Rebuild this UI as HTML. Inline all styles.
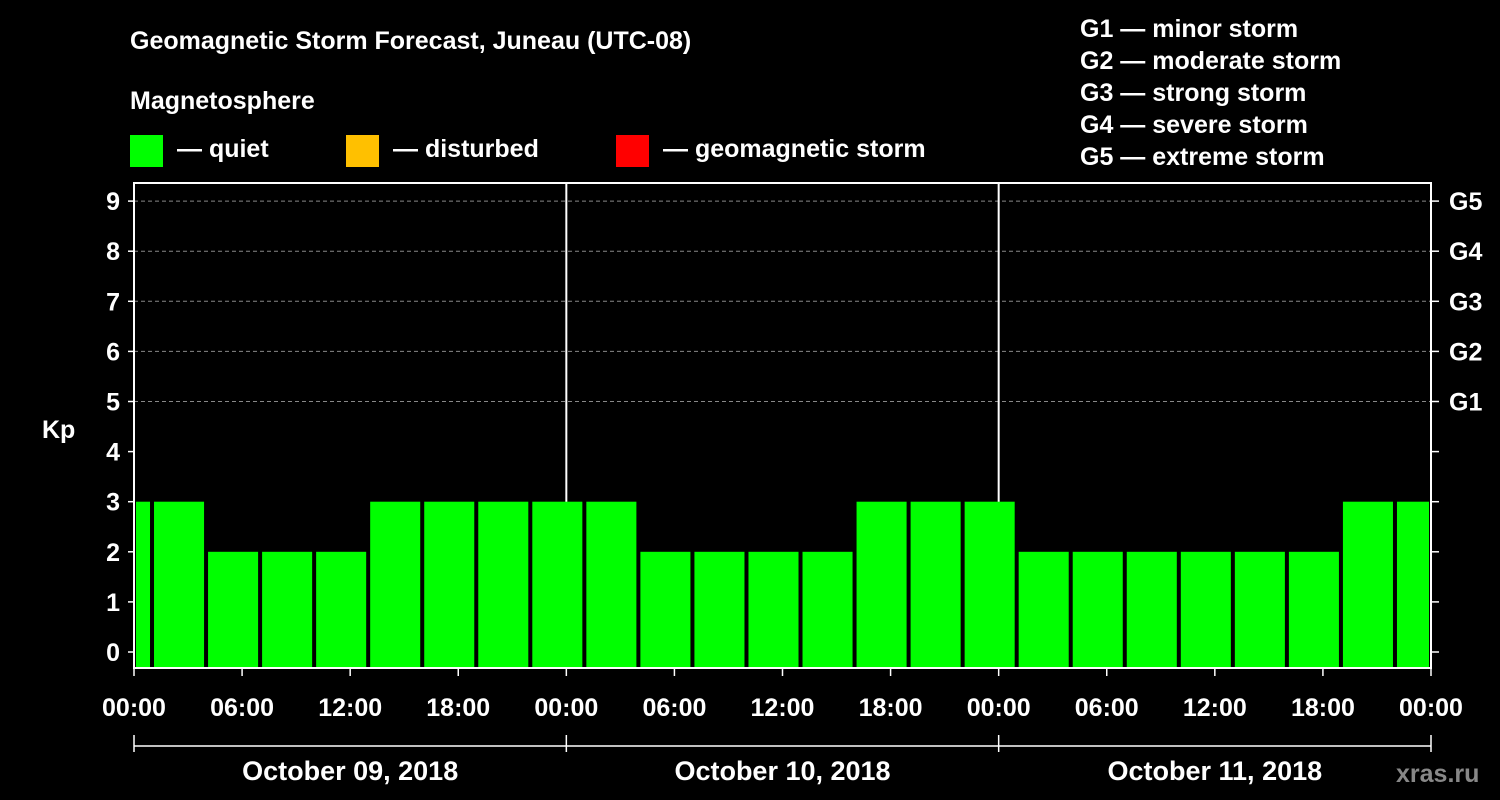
<!DOCTYPE html>
<html><head><meta charset="utf-8"><style>
body{margin:0;background:#000;width:1500px;height:800px;overflow:hidden}
svg{display:block}
text{font-family:"Liberation Sans",Arial,sans-serif;font-weight:bold;fill:#fff}
</style></head><body>
<svg id="chart" width="1500" height="800">
<text x="130" y="49" font-size="25">Geomagnetic Storm Forecast, Juneau (UTC-08)</text>
<text x="130" y="109" font-size="25">Magnetosphere</text>
<g><rect x="130" y="135" width="33" height="32" fill="#00ff00"/><text x="177" y="157" font-size="25">— quiet</text></g>
<g><rect x="346" y="135" width="33" height="32" fill="#ffc000"/><text x="393" y="157" font-size="25">— disturbed</text></g>
<g><rect x="616" y="135" width="33" height="32" fill="#ff0000"/><text x="663" y="157" font-size="25">— geomagnetic storm</text></g>
<g font-size="25">
<text x="1080" y="37">G1 — minor storm</text>
<text x="1080" y="69">G2 — moderate storm</text>
<text x="1080" y="101">G3 — strong storm</text>
<text x="1080" y="133">G4 — severe storm</text>
<text x="1080" y="165">G5 — extreme storm</text>
</g>
<text x="42" y="438" font-size="25">Kp</text>
<text x="1396" y="782" font-size="25" fill="#888" style="fill:#888">xras.ru</text>
<g id="grid"></g><g id="bars"></g><g id="axes"></g>
</svg>
<script>
const hourStart=[0,1,4,7,10,13,16,19,22,25,28,31,34,37,40,43,46,49,52,55,58,61,64,67,70];
const hourEnd=[1,4,7,10,13,16,19,22,25,28,31,34,37,40,43,46,49,52,55,58,61,64,67,70,72];
const kpValues=[3,3,2,2,2,3,3,3,3,3,2,2,2,2,3,3,3,2,2,2,2,2,2,3,3];
const yTicks=[0,1,2,3,4,5,6,7,8,9];
const gLabels=["G1","G2","G3","G4","G5"];
const xTickLabels=["00:00","06:00","12:00","18:00","00:00","06:00","12:00","18:00","00:00","06:00","12:00","18:00","00:00"];
const dayLabels=["October 09, 2018","October 10, 2018","October 11, 2018"];
const NS="http://www.w3.org/2000/svg";
const X0=134,X1=1431,Ytop=183,Ybot=668;
const x=h=>X0+h*(X1-X0)/72;
const y=v=>652-v*50.1;
function mk(p,t,a){const e=document.createElementNS(NS,t);for(const k in a)e.setAttribute(k,a[k]);p.appendChild(e);return e;}
const grid=document.getElementById('grid'),bars=document.getElementById('bars'),axes=document.getElementById('axes');
yTicks.forEach(v=>{if(v>=5){const l=mk(grid,'line',{x1:X0,x2:X1,y1:y(v),y2:y(v),stroke:'#888','stroke-dasharray':'4,3','stroke-width':1});

}});
[1,2].forEach(d=>{const l=mk(grid,'line',{x1:x(d*24),x2:x(d*24),y1:Ytop,y2:Ybot,stroke:'#fff','stroke-width':2});

});
kpValues.forEach((v,i)=>{const c=v>=5?'#ff0000':(v>=4?'#ffc000':'#00ff00');
const r=mk(bars,'rect',{x:x(hourStart[i])+2,y:y(v),width:x(hourEnd[i])-x(hourStart[i])-4,height:Ybot-y(v),fill:c});

});
const fr=mk(axes,'rect',{x:X0,y:Ytop,width:X1-X0,height:Ybot-Ytop,fill:'none',stroke:'#fff','stroke-width':2});


yTicks.forEach(v=>{mk(axes,'line',{x1:X0-6,x2:X0,y1:y(v),y2:y(v),stroke:'#fff','stroke-width':1.5});
mk(axes,'line',{x1:X1,x2:X1+8,y1:y(v),y2:y(v),stroke:'#fff','stroke-width':1.5});
const t=mk(axes,'text',{x:X0-14,y:y(v)+9,'font-size':25,'text-anchor':'end'});t.textContent=v;

});
gLabels.forEach((g,i)=>{const t=mk(axes,'text',{x:1449,y:y(5+i)+9,'font-size':25});t.textContent=g;

});
xTickLabels.forEach((s,i)=>{const xx=x(i*6);mk(axes,'line',{x1:xx,x2:xx,y1:Ybot,y2:Ybot+8,stroke:'#fff','stroke-width':1.5});
const t=mk(axes,'text',{x:xx,y:716,'font-size':25,'text-anchor':'middle'});t.textContent=s;

});
mk(axes,'line',{x1:X0,x2:X1,y1:746,y2:746,stroke:'#fff','stroke-width':1.5});
[0,1,2,3].forEach(d=>mk(axes,'line',{x1:x(d*24),x2:x(d*24),y1:735,y2:752,stroke:'#fff','stroke-width':1.5}));
dayLabels.forEach((s,i)=>{const t=mk(axes,'text',{x:x(i*24+12),y:780,'font-size':27,'text-anchor':'middle'});t.textContent=s;

});
</script>
</body></html>
